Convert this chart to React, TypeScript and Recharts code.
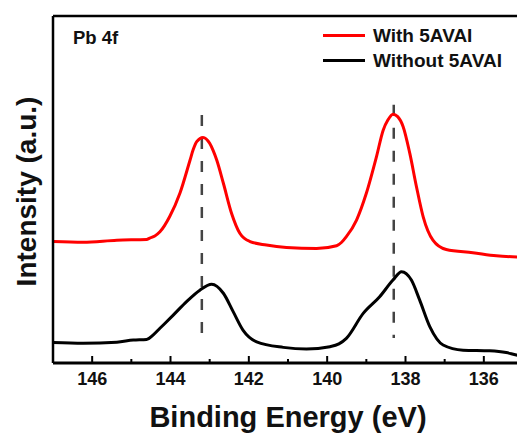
import React from 'react';
import { LineChart, Line, XAxis, YAxis, ReferenceLine, Legend } from 'recharts';

// binding energy (eV) and intensity (a.u.)
const withEnergy = [147, 146.23, 145.37, 144.61, 144.53, 144.4, 144.27, 144.02, 143.76, 143.5, 143.42, 143.33, 143.17, 143.0, 142.91, 142.82, 142.65, 142.44, 142.23, 141.97, 141.55, 141.04, 140.27, 139.76, 139.63, 139.51, 139.25, 139.0, 138.74, 138.57, 138.45, 138.32, 138.2, 138.06, 137.89, 137.72, 137.55, 137.3, 136.96, 136.28, 135.68, 135];
const withIntensity = [35.0, 34.8, 35.4, 35.6, 36.0, 36.6, 37.8, 42.2, 48.9, 58.5, 61.5, 63.8, 65.0, 63.3, 61.2, 58.5, 51.8, 43.1, 37.4, 35.0, 34.0, 33.3, 33.0, 33.8, 34.8, 36.4, 41.2, 48.9, 59.5, 67.1, 70.0, 71.7, 71.0, 68.1, 60.4, 50.8, 42.2, 35.4, 32.7, 31.8, 30.9, 30.5];

const withoutEnergy = [147, 146.23, 145.37, 144.95, 144.61, 144.44, 144.27, 143.93, 143.59, 143.25, 142.95, 142.65, 142.4, 142.15, 141.8, 141.12, 140.53, 139.93, 139.7, 139.51, 139.08, 138.66, 138.32, 138.1, 137.85, 137.64, 137.38, 137.04, 136.53, 135.85, 135.43, 135.17, 135];
const withoutIntensity = [5.9, 5.7, 6.0, 6.6, 6.8, 8.1, 10.0, 13.8, 17.7, 21.0, 22.7, 20.1, 14.8, 9.5, 6.1, 4.5, 4.0, 4.7, 5.5, 7.1, 14.3, 19.1, 23.9, 26.3, 23.9, 18.2, 10.5, 5.2, 3.7, 3.5, 3.0, 2.3, 2.0];

const xTicks = [135, 136, 137, 138, 139, 140, 141, 142, 143, 144, 145, 146, 147];

// dashed guide lines at the shifted peak positions
const guideEnergy = [143.2, 138.3];
const guideTop = [71.5, 74.4];
const guideBottom = [7.2, 7.2];

const withData = withEnergy.map((e, i) => ({ e, v: withIntensity[i] }));
const withoutData = withoutEnergy.map((e, i) => ({ e, v: withoutIntensity[i] }));

const FONT = '"Liberation Sans", Arial, sans-serif';

const EnergyTick = (props: any) => {
  const { x, y, payload } = props;
  const major = payload.value % 2 === 0;
  return (
    <g>
      <line x1={x} x2={x} y1={y} y2={y - (major ? 7 : 4)} stroke="#000" strokeWidth={2} />
      {major && (
        <text x={x} y={y + 16} textAnchor="middle" dominantBaseline="central" fontFamily={FONT} fontWeight="bold" fontSize={18} fill="#111">
          {payload.value}
        </text>
      )}
    </g>
  );
};

const XTitle = (props: any) => {
  const { x, y, width } = props.viewBox;
  return (
    <text x={x + width / 2} y={y + 64} textAnchor="middle" fontFamily={FONT} fontWeight="bold" fontSize={29} fill="#111">
      Binding Energy (eV)
    </text>
  );
};

const YTitle = (props: any) => {
  const { x, y, width, height } = props.viewBox;
  const cx = x + width - 27;
  const cy = y + height / 2 + 2;
  return (
    <text x={cx} y={cy} transform={`rotate(-90 ${cx} ${cy})`} textAnchor="middle" dominantBaseline="central" fontFamily={FONT} fontWeight="bold" fontSize={28} fill="#111">
      Intensity (a.u.)
    </text>
  );
};

const LegendBox = (props: any) => (
  <div style={{ fontFamily: FONT }}>
    {(props.payload || []).map((p: any) => (
      <div key={p.value} style={{ display: 'flex', alignItems: 'center', height: 25 }}>
        <div style={{ width: 42, height: 3, background: p.color, marginRight: 8 }} />
        <span style={{ fontSize: 19, fontWeight: 'bold', color: '#111' }}>{p.value}</span>
      </div>
    ))}
  </div>
);

export default function App() {
  return (
    <div style={{ position: 'absolute', left: 0, top: 0, width: 517, height: 433, overflow: 'hidden', background: '#fff', fontFamily: FONT }}>
      <LineChart width={530} height={433} margin={{ top: 16, right: 7, left: 0, bottom: 0 }}>
        <XAxis
          type="number"
          dataKey="e"
          domain={[135, 147]}
          reversed
          ticks={xTicks}
          interval={0}
          height={70}
          tickSize={0}
          tickMargin={0}
          tickLine={false}
          tick={<EnergyTick />}
          axisLine={{ stroke: '#000', strokeWidth: 3 }}
          allowDataOverflow
          label={<XTitle />}
        />
        <YAxis
          type="number"
          domain={[0, 100]}
          width={53}
          tick={false}
          tickLine={false}
          axisLine={{ stroke: '#000', strokeWidth: 2.5 }}
          allowDataOverflow
          label={<YTitle />}
        />
        <ReferenceLine y={100} stroke="#000" strokeWidth={2.5} />
        {guideEnergy.map((g, i) => (
          <ReferenceLine
            key={g}
            segment={[{ x: g, y: guideTop[i] }, { x: g, y: guideBottom[i] }]}
            stroke="#444"
            strokeWidth={2.5}
            strokeDasharray="11 12"
          />
        ))}
        <Line data={withData} dataKey="v" name="With 5AVAI" type="monotone" stroke="#ff0000" strokeWidth={3} dot={false} isAnimationActive={false} />
        <Line data={withoutData} dataKey="v" name="Without 5AVAI" type="monotone" stroke="#000" strokeWidth={3} dot={false} isAnimationActive={false} />
        <Legend
          layout="horizontal"
          verticalAlign="middle"
          align="center"
          content={<LegendBox />}
          wrapperStyle={{ top: 23, left: 323, width: 'auto' }}
        />
      </LineChart>
      <div style={{ position: 'absolute', left: 73, top: 27, fontSize: 18.5, fontWeight: 'bold', color: '#111' }}>Pb 4f</div>
    </div>
  );
}
